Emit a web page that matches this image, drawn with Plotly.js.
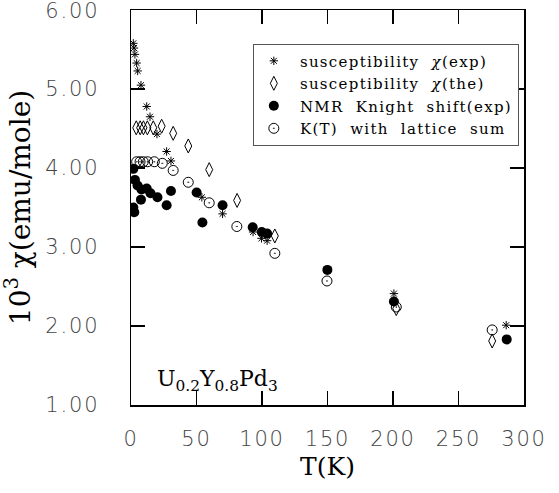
<!DOCTYPE html>
<html>
<head>
<meta charset="utf-8">
<script src="https://cdn.plot.ly/plotly-3.0.1.min.js"></script>
<style>
html,body{margin:0;padding:0;background:#fff;}
#chart{width:559px;height:493px;}
.legendtext{letter-spacing:1.3px;}
.xtick text,.ytick text{letter-spacing:1.8px;}
</style>
</head>
<body>
<div id="chart"></div>
<script>
// susceptibility chi (exp)
const expT = [1.75, 2.3, 3.0, 4.3, 5.1, 7.6, 12.0, 14.5, 19.8, 27.2, 30.5, 54.1, 69.9, 93.2, 99.6, 103.9, 200.7, 286.4];
const expChi = [5.58, 5.52, 5.44, 5.33, 5.23, 5.05, 4.78, 4.65, 4.43, 4.21, 4.09, 3.63, 3.42, 3.19, 3.11, 3.08, 2.41, 2.01];
// susceptibility chi (theory)
const theT = [4.0, 7.0, 9.5, 12.5, 17.0, 23.4, 32.2, 43.7, 59.7, 81.0, 109.8, 202.5, 275.7];
const theChi = [4.51, 4.51, 4.51, 4.51, 4.51, 4.53, 4.44, 4.28, 3.98, 3.59, 3.14, 2.22, 1.81];
// NMR Knight shift (exp)
const nmrT = [1.8, 3.0, 5.0, 8.0, 12.0, 14.9, 7.6, 20.2, 30.5, 27.2, 1.8, 2.5, 50.1, 69.9, 54.5, 92.9, 99.8, 103.9, 149.9, 200.7, 286.8];
const nmrK = [3.99, 3.85, 3.78, 3.73, 3.74, 3.68, 3.60, 3.63, 3.71, 3.53, 3.50, 3.44, 3.69, 3.53, 3.31, 3.25, 3.19, 3.17, 2.71, 2.31, 1.83];
// K(T) with lattice sum
const latT = [4.3, 6.9, 9.4, 12.7, 17.8, 23.9, 32.2, 43.7, 59.7, 80.8, 109.8, 149.6, 202.5, 275.7];
const latK = [4.08, 4.08, 4.08, 4.08, 4.08, 4.06, 3.97, 3.82, 3.56, 3.26, 2.92, 2.57, 2.24, 1.95];

const xTicks = [0, 50, 100, 150, 200, 250, 300];
const yTicks = [1, 2, 3, 4, 5, 6];
const yTickText = ['1.00', '2.00', '3.00', '4.00', '5.00', '6.00'];

const sp = '\u00a0\u00a0';
const lead = '\u00a0';
const names = [lead + 'susceptibility' + sp + '<i>\u03c7</i>(exp)', lead + 'susceptibility' + sp + '<i>\u03c7</i>(the)', lead + 'NMR' + sp + 'Knight' + sp + 'shift(exp)', lead + 'K(T)' + sp + 'with' + sp + 'lattice' + sp + 'sum'];

const traces = [
  {x: expT, y: expChi, name: names[0], type: 'scatter', mode: 'markers',
   marker: {symbol: 'asterisk-open', size: 7, color: '#000', line: {color: '#000', width: 1}}},
  {x: theT, y: theChi, name: names[1], type: 'scatter', mode: 'markers',
   marker: {symbol: 'diamond-tall-open', size: 10, color: '#000', line: {color: '#000', width: 1}}},
  {x: nmrT, y: nmrK, name: names[2], type: 'scatter', mode: 'markers',
   marker: {symbol: 'circle', size: 10, color: '#000'}},
  {x: latT, y: latK, name: names[3], type: 'scatter', mode: 'markers',
   marker: {symbol: 'circle-open-dot', size: 10, color: '#000', line: {color: '#000', width: 1}}}
];

const tickFont = {family: 'DejaVu Sans', size: 21, color: '#444', weight: 200};
const layout = {
  width: 559, height: 493,
  margin: {l: 131, r: 35, t: 10, b: 88},
  paper_bgcolor: '#fff', plot_bgcolor: '#fff',
  showlegend: true,
  legend: {x: 0.31, y: 0.915, xanchor: 'left', yanchor: 'top',
    bgcolor: '#fff', bordercolor: '#555', borderwidth: 1,
    font: {family: 'DejaVu Serif', size: 15, color: '#000'},
    itemwidth: 30, tracegroupgap: 0},
  xaxis: {range: [0, 300], tickvals: xTicks, ticktext: xTicks.map(String),
    ticks: 'inside', ticklen: 14, tickwidth: 1.5, tickcolor: '#000',
    showline: true, linecolor: '#000', linewidth: 1.5, mirror: 'ticks',
    showgrid: false, zeroline: false, tickfont: tickFont, ticklabelstandoff: 14,
    ticklabeloverflow: 'allow',
    title: {text: 'T(K)', font: {family: 'DejaVu Serif', size: 25, color: '#000'}, standoff: 8}},
  yaxis: {range: [0.999, 6.002], tickvals: yTicks, ticktext: yTickText,
    ticks: 'inside', ticklen: 14, tickwidth: 1.5, tickcolor: '#000',
    showline: true, linecolor: '#000', linewidth: 1.5, mirror: 'ticks',
    showgrid: false, zeroline: false, tickfont: tickFont, ticklabelstandoff: 26,
    ticklabeloverflow: 'allow',
    title: {text: '10<sup>3</sup> \u03c7(emu/mole)', font: {family: 'DejaVu Serif', size: 28, color: '#000'}, standoff: 8}},
  annotations: [{xref: 'paper', yref: 'paper', x: 0.061, y: 0.063, xanchor: 'left', yanchor: 'middle',
    text: 'U<sub>0.2</sub>Y<sub>0.8</sub>Pd<sub>3</sub>', showarrow: false,
    font: {family: 'DejaVu Serif', size: 22, color: '#000'}}]
};

Plotly.newPlot('chart', traces, layout, {displayModeBar: false, staticPlot: true});
</script>
</body>
</html>
